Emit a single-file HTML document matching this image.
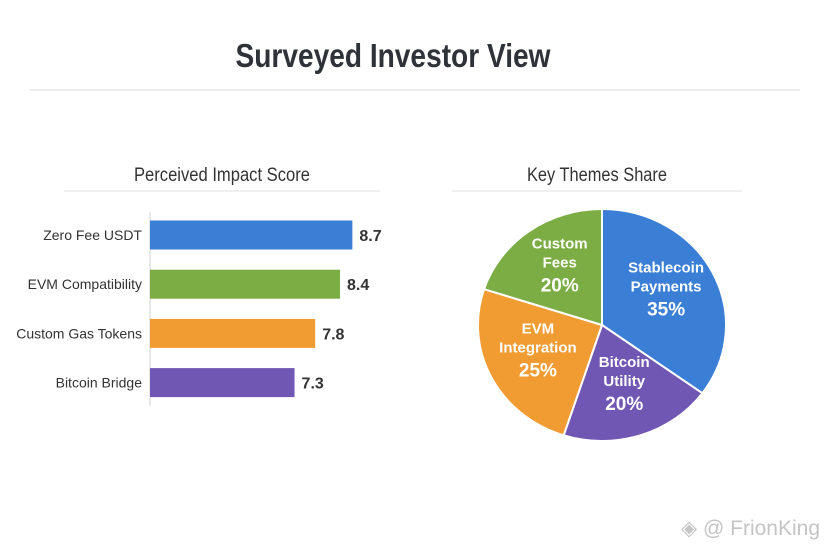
<!DOCTYPE html>
<html><head><meta charset="utf-8"><style>
body{margin:0;background:#fff;}
svg text{font-family:"Liberation Sans",sans-serif;}
</style></head><body>
<svg id="c" width="828" height="552" viewBox="0 0 828 552">
<text x="393" y="67" text-anchor="middle" font-size="33" font-weight="bold" fill="#2f3339" textLength="315" lengthAdjust="spacingAndGlyphs">Surveyed Investor View</text>
<line x1="30" y1="90" x2="800" y2="90" stroke="#d8d8d8"/>
<text x="222" y="181" text-anchor="middle" font-size="19" fill="#333" textLength="176" lengthAdjust="spacingAndGlyphs">Perceived Impact Score</text>
<line x1="64" y1="191" x2="380" y2="191" stroke="#e0e0e0"/>
<text x="597" y="181" text-anchor="middle" font-size="19" fill="#333" textLength="140" lengthAdjust="spacingAndGlyphs">Key Themes Share</text>
<line x1="452" y1="191" x2="742" y2="191" stroke="#e0e0e0"/>
<line x1="150" y1="212" x2="150" y2="406" stroke="#d0d0d0"/>
<g id="bars"></g>
<g id="pie"></g>
<text x="820" y="535" text-anchor="end" font-size="21" fill="#c4c4c4">◈ @ FrionKing</text>
</svg>
<script>
const barCategories=["Zero Fee USDT","EVM Compatibility","Custom Gas Tokens","Bitcoin Bridge"];
const barValues=[8.7,8.4,7.8,7.3];
const barColors=["#3a7fd5","#7cad45","#f19c32","#7057b3"];
const pieLabels=[["Stablecoin","Payments"],["Bitcoin","Utility"],["EVM","Integration"],["Custom","Fees"]];
const pieValues=[35,20,25,20];
const pieColors=["#3a7fd5","#7057b3","#f19c32","#7cad45"];
const NS="http://www.w3.org/2000/svg";
function mk(t,a,p){const e=document.createElementNS(NS,t);for(const k in a)e.setAttribute(k,a[k]);p.appendChild(e);return e;}
const xs=v=>150+(v-3.8)*41.3;
const ys=i=>235+i*49.2;
const bg=document.getElementById('bars');
barValues.forEach((v,i)=>{
  const r=mk('rect',{x:150,y:ys(i)-14.5,width:xs(v)-150,height:29,fill:barColors[i]},bg);
  
  
  const l=mk('text',{x:142,y:ys(i)+5,'text-anchor':'end','font-size':14,fill:'#333'},bg);
  l.textContent=barCategories[i];
  
  
  const t=mk('text',{x:xs(v)+7,y:ys(i)+6,'font-size':16,'font-weight':'bold',fill:'#333'},bg);
  t.textContent=v.toFixed(1);
  
  
});
const pg=document.getElementById('pie');
const cx=602,cy=325,rx=124,ry=116;
const tot=pieValues.reduce((a,b)=>a+b,0);
let a0=0;
const pt=(a,s)=>[cx+rx*s*Math.sin(a),cy-ry*s*Math.cos(a)];
pieValues.forEach((v,i)=>{
  const a1=a0+v/tot*2*Math.PI;
  const p0=pt(a0,1),p1=pt(a1,1);
  const s=mk('path',{d:`M${cx},${cy}L${p0[0]},${p0[1]}A${rx},${ry} 0 ${a1-a0>Math.PI?1:0} 1 ${p1[0]},${p1[1]}Z`,fill:pieColors[i],stroke:'#fff','stroke-width':2},pg);
  
  
  const m=pt((a0+a1)/2,0.58);
  const t=mk('text',{x:m[0],y:m[1]-22,'text-anchor':'middle','font-size':15,'font-weight':'bold',fill:'#fff'},pg);
  
  
  pieLabels[i].forEach((w,j)=>{const ts=mk('tspan',{x:m[0],dy:j?19:0},t);ts.textContent=w;});
  const ts=mk('tspan',{x:m[0],dy:24,'font-size':19},t);ts.textContent=v+'%';
  a0=a1;
});
</script>
</body></html>
